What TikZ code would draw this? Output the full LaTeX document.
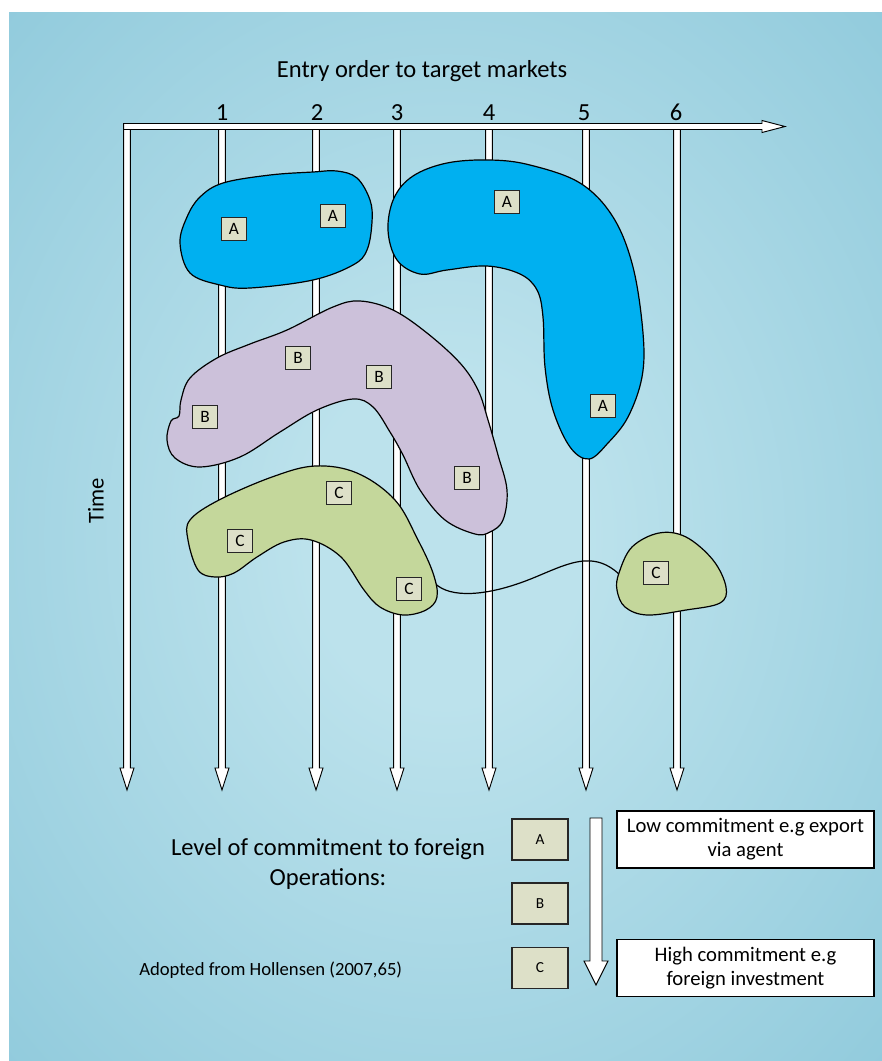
\documentclass[tikz,border=0pt]{standalone}
\usepackage{fontspec}
\setmainfont{Carlito}
\definecolor{bginner}{RGB}{188,226,236}
\definecolor{bgouter}{RGB}{142,201,219}
\definecolor{blueA}{HTML}{00B0F0}
\definecolor{purpleB}{HTML}{CCC1DA}
\definecolor{greenC}{HTML}{C4D79B}
\definecolor{boxfill}{HTML}{DDE0C8}
\pgfdeclareradialshading{bgshade}{\pgfpoint{0bp}{0bp}}{color(0bp)=(bginner); color(8bp)=(bginner); color(38bp)=(bgouter); color(50bp)=(bgouter)}
\begin{document}
\begin{tikzpicture}[x=0.75pt,y=-0.75pt,
  bar/.style={fill=white,draw=black,line width=0.7pt,line join=miter},
  blob/.style={draw=black,line width=0.9pt},
  lbox/.style={draw=black!85,fill=boxfill,line width=0.8pt,minimum width=18.5pt,minimum height=17.5pt,inner sep=0pt,font=\fontsize{13}{13}\selectfont},
  keybox/.style={draw=black!85,fill=boxfill,line width=0.8pt,minimum width=42pt,minimum height=30.75pt,inner sep=0pt,font=\fontsize{11.5}{11.5}\selectfont},
  notebox/.style={draw=black,fill=white,line width=0.8pt,minimum width=192.75pt,minimum height=42.75pt,align=center,font=\fontsize{15.5}{18}\selectfont,inner sep=0pt},
  big/.style={font=\fontsize{18.4}{20}\selectfont,inner sep=0pt},
]
\useasboundingbox (0,0) rectangle (882,1061);
\fill[white] (0,0) rectangle (882,1061);
\shade[shading=bgshade] (9,12) rectangle (882,1061);

% vertical time arrows
\foreach \x in {127,222,316,397,489,586,677} {
  \draw[bar] (\x-3.3,127) -- (\x-3.3,768) -- (\x-7,768) -- (\x,790) -- (\x+7,768) -- (\x+3.3,768) -- (\x+3.3,127) -- cycle;
}
% horizontal arrow
\draw[bar] (123.7,123.5) -- (762,123.5) -- (762,120.5) -- (785,126.5) -- (762,132.5) -- (762,129.5) -- (123.7,129.5) -- cycle;

% labels on top
\node[big,anchor=base] (title) at (422,77) {Entry order to target markets};
\node[big,anchor=base] (n1) at (222,120) {1};
\node[big,anchor=base] (n2) at (317,120) {2};
\node[big,anchor=base] (n3) at (397,120) {3};
\node[big,anchor=base] (n4) at (489,120) {4};
\node[big,anchor=base] (n5) at (584,120) {5};
\node[big,anchor=base] (n6) at (676,120) {6};
\node[rotate=90,font=\fontsize{17}{17}\selectfont] (time) at (96,501) {Time};

% connector C1 -> C2
\coordinate (c1r) at (432,580);
\coordinate (c2l) at (621,576);
\draw[line width=0.9pt] (c1r) .. controls (445,598) and (480,597) .. (520,583)
  .. controls (560,569) and (590,545) .. (c2l);

% blob A1
\draw[blob,fill=blueA] plot[smooth cycle,tension=0.6] coordinates {
 (200,197) (223,183) (270,175) (313,172) (337,171) (357,178) (370,200) (372,222)
 (367,250) (353,265) (313,280) (250,288) (220,285) (190,273) (180,243) (187,217)};
% blob A2
\draw[blob,fill=blueA] plot[smooth cycle,tension=0.6] coordinates {
 (388,230) (394,198) (413,176) (447,163) (490,160) (530,165) (580,183) (613,217)
 (633,267) (643,333) (642,377) (628,417) (608,443) (589,459) (570,447) (553,410)
 (545,367) (543,317) (537,290) (520,274) (487,266) (447,270) (420,274) (397,260)};
% blob B
\draw[blob,fill=purpleB] plot[smooth cycle,tension=0.6] coordinates {
 (181,400) (190,378) (217,358) (250,344) (287,330) (333,307) (360,301) (393,310)
 (427,333) (460,363) (478,390) (488,420) (498,455) (507,490) (503,520) (490,532)
 (475,534) (445,520) (420,490) (403,455) (390,432) (373,407) (353,399) (317,410)
 (280,432) (240,457) (200,467) (175,458) (167,440) (171,421) (179,416)};
% blob C1
\draw[blob,fill=greenC] plot[smooth cycle,tension=0.6] coordinates {
 (190,520) (219,500) (272,477) (315,466) (357,473) (395,500) (418,540) (433,573)
 (437,597) (426,610) (403,615) (380,607) (364,590) (341,557) (311,540) (284,542)
 (257,557) (234,573) (215,577) (198,570) (188,540)};
% blob C2
\draw[blob,fill=greenC] plot[smooth cycle,tension=0.6] coordinates {
 (619,573) (632,547) (659,533) (686,537) (713,560) (726,587) (720,603) (686,610)
 (647,615) (625,607) (617,590)};

% letter boxes in blobs
\node[lbox] (a1) at (234,229) {A};
\node[lbox] (a2) at (333,216) {A};
\node[lbox] (a3) at (507,202) {A};
\node[lbox] (a4) at (603,406) {A};
\node[lbox] (b1) at (298,358) {B};
\node[lbox] (b2) at (379,377) {B};
\node[lbox] (b3) at (205,417) {B};
\node[lbox] (b4) at (467,478) {B};
\node[lbox] (k1) at (339,493) {C};
\node[lbox] (k2) at (240,541) {C};
\node[lbox] (k3) at (409,589) {C};
\node[lbox] (k4) at (656,573) {C};

% legend
\node[big,anchor=base] (lev1) at (328,855) {Level of commitment to foreign};
\node[big,anchor=base] (lev2) at (328,885) {Operations:};
\node[anchor=base west,inner sep=0pt,font=\fontsize{14}{14}\selectfont] (src) at (139,975) {Adopted from Hollensen (2007,65)};
\node[keybox] (ka) at (540,839.5) {A};
\node[keybox] (kb) at (540,903.5) {B};
\node[keybox] (kc) at (540,968) {C};
\draw[bar] (590,818) -- (590,961) -- (584,961) -- (596,985) -- (608,961) -- (602,961) -- (602,818) -- cycle;
\node[notebox] (low) at (745.5,839.5) {Low commitment e.g export\\via agent};
\node[notebox] (high) at (745.5,968) {High commitment e.g\\foreign investment};
\end{tikzpicture}
\end{document}
